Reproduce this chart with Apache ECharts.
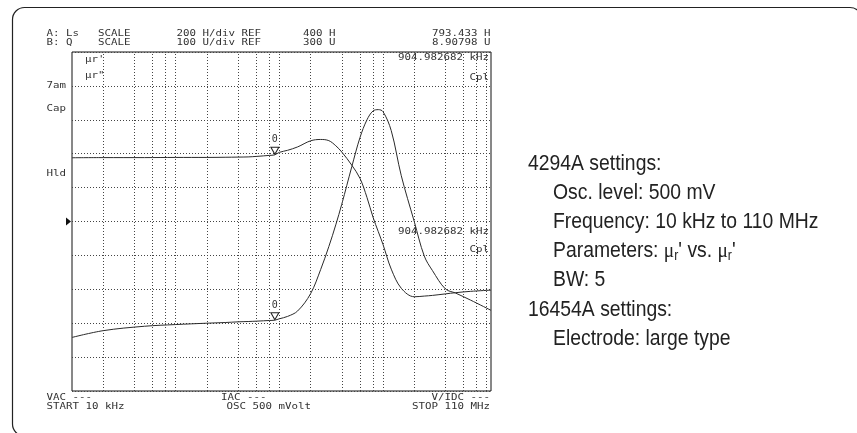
<!DOCTYPE html>
<html>
<head>
<meta charset="utf-8">
<title>4294A μr' / μr'' sweep</title>
<script src="https://cdn.jsdelivr.net/npm/echarts@6/dist/echarts.min.js"></script>
<style>
  html, body { margin: 0; padding: 0; background: #fff; }
  #chart { width: 857px; height: 433px; }
</style>
</head>
<body>
<div id="chart"></div>
<script>
// 扫频点 (Hz)，对数轴 10 kHz ~ 110 MHz
const freqs = [1e4, 2e4, 5e4, 1e5, 2e5, 3e5, 4e5, 5e5, 6e5, 7e5, 8e5, 9e5, 1e6, 1.2e6, 1.5e6, 2e6, 2.5e6, 3e6, 3.5e6, 4e6, 5e6, 6e6, 7e6, 8e6, 9e6, 1e7, 1.2e7, 1.5e7, 2e7, 2.5e7, 3e7, 4e7, 5e7, 7e7, 1.1e8]
// trace A: μr' (显示单位 H)
const muReal = [776, 777, 777, 778, 778, 779, 780, 781, 784, 787, 790, 793, 808, 820, 840, 876, 884, 877, 847, 810, 732, 654, 542, 426, 340, 264, 119, 6, -44, -40, -36, -27, -20, -12, -5]
// trace B: μr'' (显示单位 U)
const muImag = [-42, -22, -9, -4, 0, 2, 4, 5, 6, 7, 8, 8.9, 13, 20, 36, 87, 158, 226, 290, 351, 462, 548, 600, 626, 630, 624, 568, 435, 300, 198, 155, 101, 89, 68, 38]
// 竖向网格 (2,4,6,8,10 x 每个十倍频)
const gridFreqs = [2e4, 4e4, 6e4, 8e4, 1e5, 2e5, 4e5, 6e5, 8e5, 1e6, 2e6, 4e6, 6e6, 8e6, 1e7, 2e7, 4e7, 6e7, 8e7, 1e8]
// 标尺: REF / 每格
const scaleA = { ref: 400, div: 200 }
const scaleB = { ref: 300, div: 100 }
// marker 读数
const markerFreq = 904982.682
const markerA = 793.433
const markerB = 8.90798
// 右侧设置说明
const settingLines = [
  ['4294A settings:', 0],
  ['Osc. level: 500 mV', 1],
  ['Frequency: 10 kHz to 110 MHz', 1],
  ['Parameters: {m|μ}{s|r}\' vs. {m|μ}{s|r}\'', 1],
  ['BW: 5', 1],
  ['16454A settings:', 0],
  ['Electrode: large type', 1],
]

const chart = echarts.init(document.getElementById('chart'))

const mono = '9px "DejaVu Sans Mono", "Liberation Mono", monospace'
const sans = '22px "Liberation Sans", Arial, sans-serif'
const ink = '#333'

function label(id, text, x, y, align) {
  return {
    type: 'text', id, x, y, silent: true,
    // 屏幕字体偏宽，横向拉伸一下
    scaleX: 1.2,
    style: {
      text, font: mono, fill: ink,
      textAlign: align || 'left', align: align || 'left',
      textVerticalAlign: 'middle', verticalAlign: 'middle',
    },
  }
}

// 仪器屏幕上的文字
const screenTexts = [
  ['A: Ls', 46.5, 33.8], ['SCALE', 98, 33.8], ['200 H/div REF', 176.5, 33.8], ['400 H', 303, 33.8], ['793.433 H', 490.5, 33.8, 'right'],
  ['B: Q', 46.5, 42.3], ['SCALE', 98, 42.3], ['100 U/div REF', 176.5, 42.3], ['300 U', 303, 42.3], ['8.90798 U', 490.5, 42.3, 'right'],
  ['μr\'', 85, 60], ['μr"', 85, 76],
  ['904.982682 kHz', 489, 58, 'right'], ['Cpl', 489, 78, 'right'],
  ['904.982682 kHz', 489, 232, 'right'], ['Cpl', 489, 250, 'right'],
  ['7am', 46.5, 85.5], ['Cap', 46.5, 108.5], ['Hld', 46.5, 174],
  ['VAC ---', 46.5, 398], ['START 10 kHz', 46.5, 406.5],
  ['IAC ---', 221, 398], ['OSC 500 mVolt', 226.5, 406.5],
  ['V/IDC ---', 490, 398, 'right'], ['STOP 110 MHz', 490, 406.5, 'right'],
]

const graphics = screenTexts.map((t, i) => label('scr' + i, t[0], t[1], t[2], t[3]))

// 外框 (圆角)
graphics.push({
  type: 'rect', id: 'frame', silent: true,
  shape: { x: 12.5, y: 7.5, width: 849.5, height: 428.5, r: 12 },
  style: { fill: 'none', stroke: '#222', lineWidth: 1.2 },
})

settingLines.forEach((line, i) => {
  graphics.push({
    type: 'text', id: 'set' + i, silent: true,
    x: line[1] ? 553 : 528, y: 164 + i * 29.1,
    scaleX: 0.88,
    style: {
      text: line[0], font: sans, fill: '#222',
      textVerticalAlign: 'middle', verticalAlign: 'middle',
      rich: {
        m: { font: '22px "Liberation Serif", serif', fill: '#222' },
        s: { font: '14px "Liberation Sans", Arial, sans-serif', fill: '#222', padding: [10, 0, 0, 0] },
      },
    },
  })
})

const markerSymbol = {
  symbol: 'triangle',
  symbolRotate: 180,
  symbolSize: [8, 7],
  symbolOffset: [0, -4],
  itemStyle: { color: '#fff', borderColor: '#222', borderWidth: 1 },
  label: { show: true, position: 'top', distance: 2, formatter: '0', fontFamily: '"DejaVu Sans Mono", monospace', fontSize: 10, color: ink },
}

chart.setOption({
  animation: false,
  grid: {
    left: 72, top: 52, width: 419, height: 339,
    show: true, borderColor: '#111', borderWidth: 1, backgroundColor: 'transparent',
  },
  xAxis: {
    type: 'log', logBase: 10, min: 1e4, max: 1.1e8,
    axisLine: { show: false }, axisTick: { show: false },
    axisLabel: { show: false }, splitLine: { show: false },
  },
  yAxis: [
    {
      type: 'value',
      min: scaleA.ref - 5 * scaleA.div, max: scaleA.ref + 5 * scaleA.div, interval: scaleA.div,
      axisLine: { show: false }, axisTick: { show: false }, axisLabel: { show: false },
      splitLine: { show: true, lineStyle: { type: [1, 2], color: '#444', width: 1 } },
    },
    {
      type: 'value',
      min: scaleB.ref - 5 * scaleB.div, max: scaleB.ref + 5 * scaleB.div, interval: scaleB.div,
      axisLine: { show: false }, axisTick: { show: false }, axisLabel: { show: false },
      splitLine: { show: false },
    },
  ],
  series: [
    {
      name: "μr'",
      type: 'line',
      yAxisIndex: 0,
      data: freqs.map((f, i) => [f, muReal[i]]),
      showSymbol: false,
      smooth: 0.35,
      lineStyle: { color: '#2a2a2a', width: 1 },
      silent: true,
      markLine: {
        silent: true,
        symbol: ['none', 'none'],
        label: { show: false },
        lineStyle: { type: [1, 2], color: '#444', width: 1 },
        data: gridFreqs.map(f => ({ xAxis: f })),
      },
      markPoint: Object.assign({ data: [{ coord: [markerFreq, markerA] }] }, markerSymbol),
    },
    {
      name: 'μr"',
      type: 'line',
      yAxisIndex: 1,
      data: freqs.map((f, i) => [f, muImag[i]]),
      showSymbol: false,
      smooth: 0.35,
      lineStyle: { color: '#2a2a2a', width: 1 },
      silent: true,
      markPoint: Object.assign({ data: [{ coord: [markerFreq, markerB] }] }, markerSymbol),
    },
  ],
  graphic: graphics,
})

// 左侧参考位置箭头 ▶ (REF 所在的格线)
const refPos = chart.convertToPixel({ gridIndex: 0 }, [1e4, scaleA.ref])
if (refPos) {
  const x = refPos[0] - 1
  const y = refPos[1]
  chart.setOption({
    graphic: [{
      type: 'polygon', id: 'refArrow', silent: true,
      shape: { points: [[x - 5, y - 4], [x, y], [x - 5, y + 4]] },
      style: { fill: '#111' },
    }],
  })
}
</script>
</body>
</html>
